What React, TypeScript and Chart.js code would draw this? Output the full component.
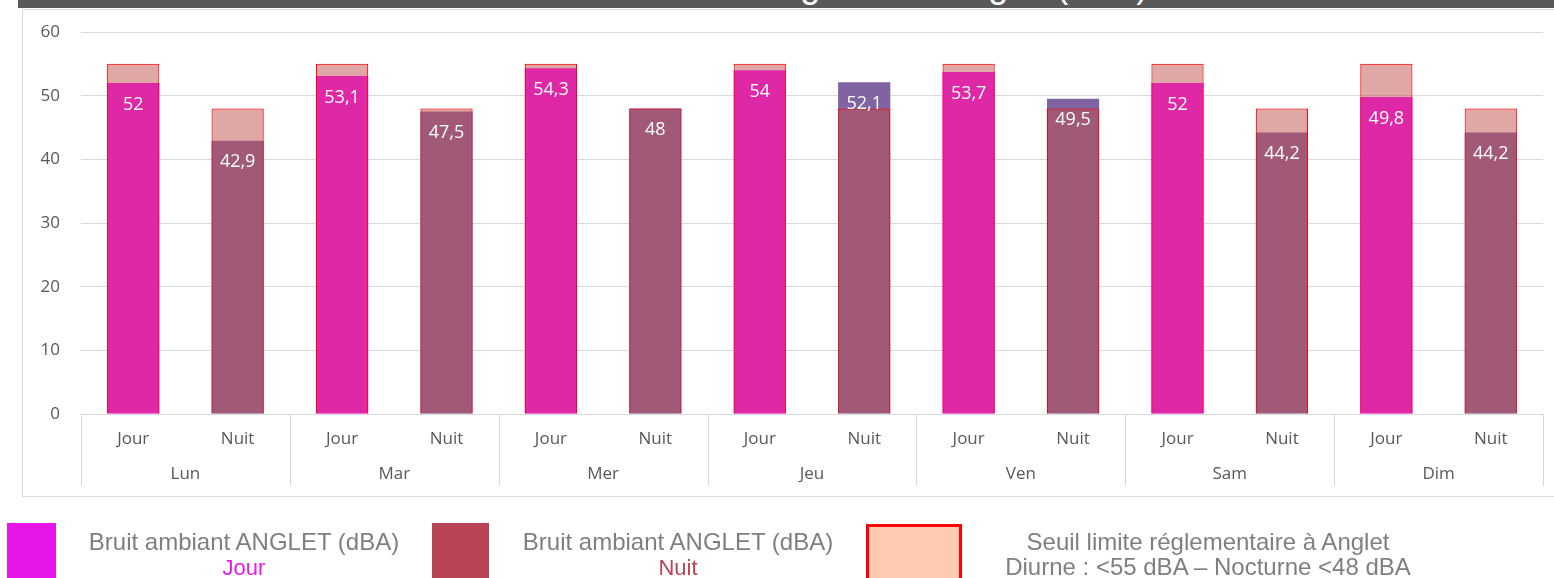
import React, { useEffect, useRef } from 'react';
import { Chart, registerables } from 'chart.js';

Chart.register(...registerables);

// ---- Data ----
const days = ['Lun', 'Mar', 'Mer', 'Jeu', 'Ven', 'Sam', 'Dim'];
const periodLabels = ['Jour', 'Nuit', 'Jour', 'Nuit', 'Jour', 'Nuit', 'Jour', 'Nuit', 'Jour', 'Nuit', 'Jour', 'Nuit', 'Jour', 'Nuit'];
const noiseValues = [52, 42.9, 53.1, 47.5, 54.3, 48, 54, 52.1, 53.7, 49.5, 52, 44.2, 49.8, 44.2];
const limitValues = [55, 48, 55, 48, 55, 48, 55, 48, 55, 48, 55, 48, 55, 48];
const yMin = 0;
const yMax = 60;
const yStep = 10;

const titleText = 'Niveaux sonores enregistrés à Anglet (dBA)';
const legendNoise = 'Bruit ambiant ANGLET (dBA)';
const legendDay = 'Jour';
const legendNight = 'Nuit';
const legendLimit1 = 'Seuil limite réglementaire à Anglet';
const legendLimit2 = 'Diurne : <55 dBA – Nocturne <48 dBA';

const DAY_COLOR = '#FF00FF';
const NIGHT_COLOR = '#8064A2';
const LIMIT_FILL = 'rgba(192, 80, 77, 0.5)';
const LIMIT_BORDER = '#FF0000';
const TEXT_GRAY = '#595959';
const GRID = '#D9D9D9';

const fmt = (v: number) => String(v).replace('.', ',');

const groupLinesPlugin = {
  id: 'groupLines',
  afterDraw(chart: any) {
    const x = chart.scales.x;
    const x2 = chart.scales.x2;
    const ctx = chart.ctx;
    const n = days.length;
    ctx.save();
    ctx.strokeStyle = GRID;
    ctx.lineWidth = 1;
    for (let i = 0; i <= n; i++) {
      let px: number;
      if (i === 0) px = x.left;
      else if (i === n) px = x.right;
      else px = (x.getPixelForValue(2 * i - 1) + x.getPixelForValue(2 * i)) / 2;
      px = Math.round(px) + 0.5;
      ctx.beginPath();
      ctx.moveTo(px, x.top);
      ctx.lineTo(px, x2.bottom);
      ctx.stroke();
    }
    ctx.restore();
  },
};

const valueLabelsPlugin = {
  id: 'valueLabels',
  afterDatasetsDraw(chart: any) {
    const meta = chart.getDatasetMeta(0);
    const ctx = chart.ctx;
    ctx.save();
    ctx.fillStyle = '#FFFFFF';
    ctx.font = '18px "Open Sans"';
    ctx.textAlign = 'center';
    ctx.textBaseline = 'middle';
    meta.data.forEach((bar: any, i: number) => {
      ctx.fillText(fmt(noiseValues[i]), bar.x, bar.y + 21.5);
    });
    ctx.restore();
  },
};

function ChartCanvas() {
  const ref = useRef<HTMLCanvasElement | null>(null);
  useEffect(() => {
    if (!ref.current) return;
    const chart = new Chart(ref.current, {
      type: 'bar',
      data: {
        labels: periodLabels,
        datasets: [
          {
            label: 'Bruit ambiant',
            data: noiseValues,
            backgroundColor: periodLabels.map((p) => (p === 'Jour' ? DAY_COLOR : NIGHT_COLOR)),
            borderWidth: 0,
            order: 2,
          },
          {
            label: 'Seuil',
            data: limitValues,
            backgroundColor: LIMIT_FILL,
            borderColor: LIMIT_BORDER,
            borderWidth: 1,
            order: 1,
          },
        ],
      },
      options: {
        animation: false,
        responsive: true,
        maintainAspectRatio: false,
        events: [],
        layout: { padding: { left: 0, top: 32, right: 11, bottom: 92 } },
        datasets: {
          bar: { grouped: false, barPercentage: 0.5, categoryPercentage: 1 },
        },
        plugins: {
          legend: { display: false },
          tooltip: { enabled: false },
          title: { display: false },
        },
        scales: {
          y: {
            min: yMin,
            max: yMax,
            ticks: {
              stepSize: yStep,
              color: TEXT_GRAY,
              font: { family: '"Open Sans"', size: 17 },
              padding: 21,
            },
            grid: { color: GRID, lineWidth: 1, drawTicks: false },
            border: { display: false },
            afterFit: (s: any) => {
              s.width = 81;
            },
          },
          x: {
            type: 'category',
            position: 'bottom',
            weight: 1,
            offset: true,
            grid: { display: false, drawTicks: false },
            border: { display: true, color: GRID, width: 1 },
            ticks: {
              color: TEXT_GRAY,
              font: { family: '"Open Sans"', size: 17 },
              padding: 15,
              maxRotation: 0,
              autoSkip: false,
            },
            afterFit: (s: any) => {
              s.height = 38;
            },
          },
          x2: {
            type: 'category',
            position: 'bottom',
            weight: 2,
            labels: days,
            offset: true,
            grid: { display: false, drawTicks: false },
            border: { display: false },
            ticks: {
              color: TEXT_GRAY,
              font: { family: '"Open Sans"', size: 17 },
              padding: 12,
              maxRotation: 0,
              autoSkip: false,
            },
            afterFit: (s: any) => {
              s.height = 34;
            },
          },
        },
      } as any,
      plugins: [groupLinesPlugin, valueLabelsPlugin],
    });
    return () => chart.destroy();
  }, []);
  return <canvas ref={ref} />;
}

const legendText: React.CSSProperties = {
  position: 'absolute',
  fontFamily: '"Liberation Sans", Arial, sans-serif',
  textAlign: 'center',
  whiteSpace: 'nowrap',
  width: 500,
};

export default function App() {
  return (
    <div
      style={{
        position: 'fixed',
        left: 0,
        top: 0,
        width: 1554,
        height: 578,
        overflow: 'hidden',
        background: '#FFFFFF',
      }}
    >
      {/* title bar (mostly cut off) */}
      <div
        style={{
          position: 'absolute',
          left: 18,
          top: 0,
          width: 1560,
          height: 8,
          background: '#595959',
          overflow: 'hidden',
        }}
      >
        <div
          style={{
            position: 'absolute',
            left: 432,
            top: -33,
            fontFamily: '"Liberation Sans", Arial, sans-serif',
            fontSize: 36,
            lineHeight: '36px',
            color: '#FFFFFF',
            whiteSpace: 'nowrap',
          }}
        >
          {titleText}
        </div>
      </div>
      {/* chart frame */}
      <div
        style={{
          position: 'absolute',
          left: 22,
          top: 9,
          width: 1560,
          height: 486,
          border: '1px solid #D9D9D9',
        }}
      />
      <div style={{ position: 'absolute', left: 0, top: 0, width: 1554, height: 578 }}>
        <ChartCanvas />
      </div>
      {/* legend */}
      <div style={{ position: 'absolute', left: 7, top: 523, width: 49, height: 60, background: '#E815E8' }} />
      <div style={{ ...legendText, left: 244 - 250, top: 529.7, fontSize: 24, lineHeight: '24px', color: '#7F7F7F' }}>
        {legendNoise}
      </div>
      <div style={{ ...legendText, left: 244 - 250, top: 557.4, fontSize: 22, lineHeight: '22px', color: '#E619E6' }}>
        {legendDay}
      </div>

      <div style={{ position: 'absolute', left: 432, top: 523, width: 57, height: 60, background: '#B84456' }} />
      <div style={{ ...legendText, left: 678 - 250, top: 529.7, fontSize: 24, lineHeight: '24px', color: '#7F7F7F' }}>
        {legendNoise}
      </div>
      <div style={{ ...legendText, left: 678 - 250, top: 557.4, fontSize: 22, lineHeight: '22px', color: '#B84456' }}>
        {legendNight}
      </div>

      <div
        style={{
          position: 'absolute',
          left: 866,
          top: 524,
          width: 90,
          height: 60,
          background: '#FFCBB0',
          border: '3px solid #FF0000',
        }}
      />
      <div style={{ ...legendText, left: 1208 - 250, top: 529.7, fontSize: 24, lineHeight: '24px', color: '#7F7F7F' }}>
        {legendLimit1}
      </div>
      <div style={{ ...legendText, left: 1208 - 250, top: 554.7, fontSize: 24, lineHeight: '24px', color: '#7F7F7F' }}>
        {legendLimit2}
      </div>
    </div>
  );
}
